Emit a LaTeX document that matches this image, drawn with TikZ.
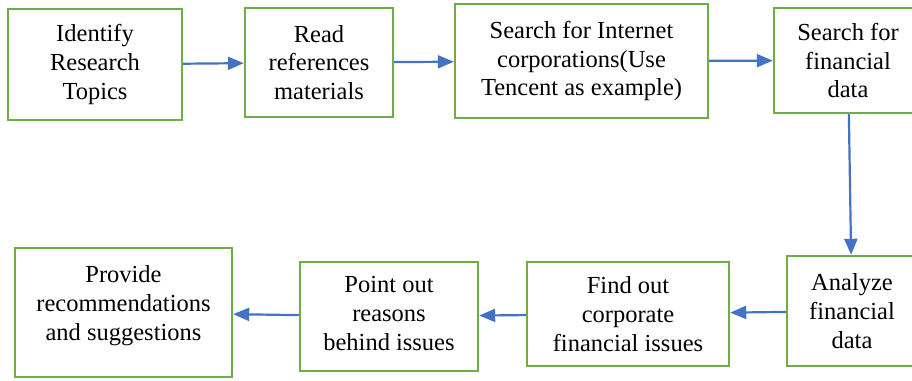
\documentclass[tikz,border=0pt]{standalone}
\usepackage{fontspec}
\setmainfont{Liberation Serif}[Ligatures=TeX]
\usetikzlibrary{arrows.meta}

\definecolor{boxgreen}{RGB}{112,173,71}
\definecolor{flowblue}{RGB}{68,114,196}

\tikzset{
  stepbox/.style={draw=boxgreen, line width=2.4pt, fill=white,
    align=center, inner sep=0pt, font=\rmfamily\fontsize{24.5}{28.8}\selectfont},
  flow/.style={draw=flowblue, line width=2.2pt,
    -{Triangle[length=16pt,width=13pt]}}
}

\begin{document}
\begin{tikzpicture}[x=1pt, y=-1pt]
  \useasboundingbox (0,0) rectangle (912,380);
  % top row, left to right
  \node[stepbox, minimum width=174pt, minimum height=111pt] (topics)
    at (95,64.5) {Identify\\Research\\Topics};
  \node[stepbox, minimum width=148pt, minimum height=109pt] (refs)
    at (319,62.5) {Read\\references\\materials};
  \node[stepbox, minimum width=253pt, minimum height=114pt] (corps)
    at (581.5,61) {Search for Internet\\corporations(Use\\Tencent as example)};
  \node[stepbox, minimum width=148pt, minimum height=105pt] (search)
    at (848,60.5) {Search for\\financial\\data};
  % bottom row, right to left
  \node[stepbox, minimum width=130pt, minimum height=110pt] (analyze)
    at (852,311) {Analyze\\financial\\data};
  \node[stepbox, minimum width=202pt, minimum height=104pt] (issues)
    at (628,314) {Find out\\corporate\\financial issues};
  \node[stepbox, minimum width=178pt, minimum height=109pt, text depth=6pt]
    (reasons) at (389,316.5) {Point out\\reasons\\behind issues};
  \node[stepbox, minimum width=217pt, minimum height=129pt, text depth=19pt]
    (advice) at (123.5,312.5) {Provide\\recommendations\\and suggestions};
  % connectors
  \draw[flow] (topics) -- (refs);
  \draw[flow] (refs) -- (corps);
  \draw[flow] (corps) -- (search);
  \draw[flow] (search) -- (analyze);
  \draw[flow] (analyze) -- (issues);
  \draw[flow] (issues) -- (reasons);
  \draw[flow] (reasons) -- (advice);
\end{tikzpicture}
\end{document}
